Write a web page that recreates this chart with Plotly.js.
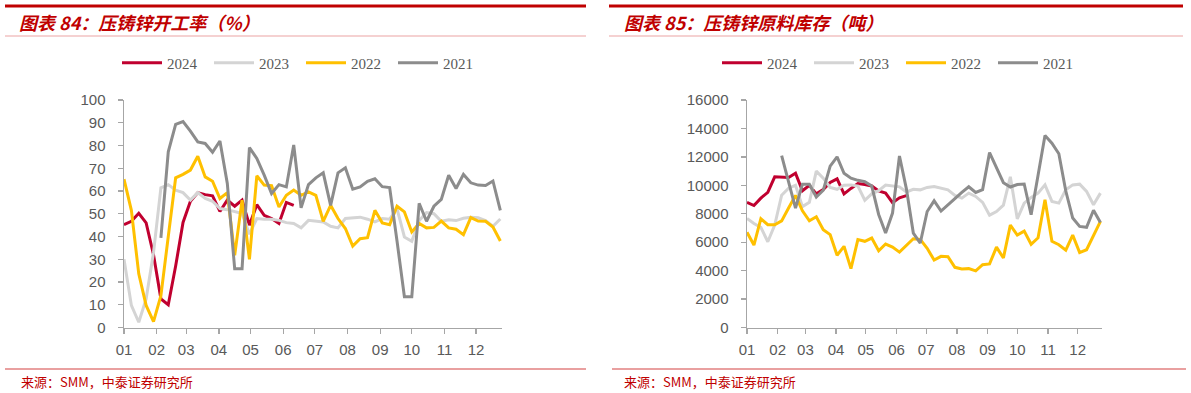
<!DOCTYPE html>
<html><head><meta charset="utf-8">
<script src="https://cdn.plot.ly/plotly-3.0.1.min.js"></script>
<style>html,body{margin:0;padding:0;background:#fff;}#chart{width:1191px;height:393px;}</style>
</head><body><div id="chart"></div>
<script>
// Weekly dates (common calendar axis, months 01-12)
const weeks = ["2021-01-01","2021-01-08","2021-01-15","2021-01-22","2021-01-29",
"2021-02-05","2021-02-12","2021-02-19","2021-02-26",
"2021-03-05","2021-03-12","2021-03-19","2021-03-26",
"2021-04-02","2021-04-09","2021-04-16","2021-04-23","2021-04-30",
"2021-05-07","2021-05-14","2021-05-21","2021-05-28",
"2021-06-04","2021-06-11","2021-06-18","2021-06-25",
"2021-07-02","2021-07-09","2021-07-16","2021-07-23","2021-07-30",
"2021-08-06","2021-08-13","2021-08-20","2021-08-27",
"2021-09-03","2021-09-10","2021-09-17","2021-09-24",
"2021-10-01","2021-10-08","2021-10-15","2021-10-22","2021-10-29",
"2021-11-05","2021-11-12","2021-11-19","2021-11-26",
"2021-12-03","2021-12-10","2021-12-17","2021-12-24"];

const seriesNames = ["2024","2023","2022","2021"];
const seriesColors = ["#C0002F","#D4D4D4","#FFC000","#8C8C8C"];

// Chart 84: 压铸锌开工率（%）
const rate2024 = [45.2,46.7,50.2,46,32,12.6,10,27,46.2,55.5,
59.3,58.4,57.9,51,56,53.3,56,45,54,49.3,
47.9,45.7,55,53.7,null,null,null,null,null,null,
null,null,null,null,null,null,null,null,null,null,
null,null,null,null,null,null,null,null,null,null,null,null];
const rate2023 = [30,9.7,2.3,12.6,33,61.4,62.8,60.4,59.3,56,
59.3,56.7,55.5,52.3,51.8,50.8,50.1,41,47.9,47.6,
47.6,47.1,46.1,45.7,43.8,47.1,46.7,46.4,44.5,43.8,
47.9,48.2,48.5,47.6,46.4,47.9,47.6,52.3,39.8,37.9,
47,50.5,50,46.7,47.4,47,48,48.5,48.2,47,44.5,47.7];
const rate2022 = [65.2,51.5,23.6,9.7,2.6,14,40,65.8,67.3,69.2,
75.3,66.2,64.3,56.7,59.3,31.7,56,30,66.7,62.6,
62.3,53,58.1,60.4,58.1,59.6,58.1,46.7,53.7,47.9,
43.5,35.8,39,39.5,51.5,46,45.2,53.3,50.8,42,
45.7,43.8,44,46.8,43.8,43.2,40.8,48.3,46.8,46.7,44.2,38];
const rate2021 = [null,null,null,null,null,39.4,77.2,89.3,90.5,86.3,
81.6,80.9,77,82,63.3,25.8,25.8,79.1,74.3,67,
58.9,62.8,61.8,80.2,52.6,62.8,65.8,68,53.7,68,
70.2,60.8,61.8,64.3,65.4,61.9,61.5,38,13.5,13.5,
54.6,46.7,53.3,56.3,66.9,61.1,67.3,63.6,62.6,62.4,64.4,51.5];

// Chart 85: 压铸锌原料库存（吨）
const stock2024 = [8800,8580,9100,9500,10600,10550,10550,10850,9620,10000,
9400,9700,10200,10450,9400,9780,10120,10050,9950,9600,
9450,8780,9120,9270,null,null,null,null,null,null,
null,null,null,null,null,null,null,null,null,null,
null,null,null,null,null,null,null,null,null,null,null,null];
const stock2023 = [7670,7310,7040,6030,7200,9300,9800,10000,8500,8800,
11000,10500,9850,9720,10000,10030,9950,8950,9400,9620,
10020,9970,9890,9530,9720,9680,9850,9920,9800,9680,
9290,9100,9450,9220,8800,7900,8150,8600,10600,7640,
8750,9150,9450,10030,8870,8750,9680,10030,10080,9570,8630,9450];
const stock2022 = [6700,5800,7650,7230,7230,7500,8400,9290,8210,7500,
7790,6880,6530,5080,5710,4140,6180,6060,6290,5400,
5870,5660,5300,5740,6245,6200,5570,4740,5005,4980,
4233,4117,4140,3980,4420,4470,5650,4890,7200,6500,
6780,5850,6310,8980,6060,5820,5440,6500,5270,5470,6410,7460];
const stock2021 = [null,null,null,null,null,12090,10250,8400,10080,10080,
9180,9650,11350,12000,10850,10500,10350,10250,9950,7950,
6640,8050,12060,9750,6640,5940,8160,8910,8190,8600,
9070,9500,9900,9500,9700,12300,11230,10180,9880,10050,
10090,7930,10700,13500,12960,12220,9600,7700,7110,7050,8250,7380];

const leftData = [rate2024, rate2023, rate2022, rate2021];
const rightData = [stock2024, stock2023, stock2022, stock2021];

const W = 1191, H = 393;
const px = v => v / W;
const py = v => 1 - v / H;

const traces = [];
leftData.forEach((arr, i) => traces.push({
  type: 'scatter', mode: 'lines', x: weeks, y: arr, name: seriesNames[i],
  xaxis: 'x', yaxis: 'y', legend: 'legend',
  line: {color: seriesColors[i], width: 3}, connectgaps: false, hoverinfo: 'skip'
}));
rightData.forEach((arr, i) => traces.push({
  type: 'scatter', mode: 'lines', x: weeks, y: arr, name: seriesNames[i],
  xaxis: 'x2', yaxis: 'y2', legend: 'legend2',
  line: {color: seriesColors[i], width: 3}, connectgaps: false, hoverinfo: 'skip'
}));

const axisColor = '#A6A6A6';
const tickFont = {family: 'Liberation Sans, Arial, sans-serif', size: 15, color: '#595959'};
const xCommon = {
  type: 'date', range: ['2021-01-01', '2021-12-25 14:00'],
  tick0: '2021-01-01', dtick: 'M1', tickformat: '%m',
  ticks: 'outside', ticklen: 5, tickwidth: 1.3, tickcolor: axisColor,
  showline: true, linecolor: axisColor, linewidth: 1.5,
  showgrid: false, zeroline: false, tickfont: tickFont, ticklabelstandoff: 3,
  fixedrange: true
};
const yCommon = {
  ticks: 'outside', ticklen: 5, tickwidth: 1.3, tickcolor: axisColor,
  showline: true, linecolor: axisColor, linewidth: 1.5,
  showgrid: false, zeroline: false, tickfont: tickFont, ticklabelstandoff: 9,
  tickformat: 'd', fixedrange: true
};
const yDom = [py(327.5), py(100)];

const legendCommon = {
  orientation: 'h', xanchor: 'left', yanchor: 'middle', y: py(63),
  font: {family: 'Liberation Serif, Times New Roman, serif', size: 15, color: '#595959'},
  itemwidth: 40, entrywidth: 37, entrywidthmode: 'pixels', bgcolor: 'rgba(0,0,0,0)',
  itemclick: false, itemdoubleclick: false
};

const titleFont = {family: 'Noto Sans CJK SC, sans-serif', size: 18, color: '#C00000', weight: 'bold', style: 'italic'};
const srcFont = {family: 'Noto Sans CJK SC, sans-serif', size: 13, color: '#C00000'};

const line = (x0, x1, y, color, width) => ({
  type: 'line', xref: 'paper', yref: 'paper', x0: px(x0), x1: px(x1), y0: py(y), y1: py(y),
  line: {color: color, width: width}
});

const layout = {
  width: W, height: H, margin: {l: 0, r: 0, t: 0, b: 0},
  paper_bgcolor: '#FFFFFF', plot_bgcolor: '#FFFFFF', showlegend: true,
  xaxis: Object.assign({}, xCommon, {domain: [px(124), px(502)], anchor: 'y'}),
  yaxis: Object.assign({}, yCommon, {domain: yDom, range: [0, 100], dtick: 10, anchor: 'x'}),
  xaxis2: Object.assign({}, xCommon, {domain: [px(747), px(1102)], anchor: 'y2'}),
  yaxis2: Object.assign({}, yCommon, {domain: yDom, range: [0, 16000], dtick: 2000, anchor: 'x2'}),
  legend: Object.assign({}, legendCommon, {x: px(117)}),
  legend2: Object.assign({}, legendCommon, {x: px(717)}),
  shapes: [
    line(5, 586, 6, '#C00000', 3),
    line(609, 1183, 6, '#C00000', 3),
    line(5, 586, 36, '#EBA3A3', 1),
    line(609, 1183, 36, '#EBA3A3', 1),
    line(5, 586, 369, '#E9A0A0', 2),
    line(612, 1186, 369, '#E9A0A0', 2)
  ],
  annotations: [
    {xref: 'paper', yref: 'paper', x: px(17), y: py(22), xanchor: 'left', yanchor: 'middle', showarrow: false,
     text: '图表 84：压铸锌开工率（%）', font: titleFont},
    {xref: 'paper', yref: 'paper', x: px(622), y: py(22), xanchor: 'left', yanchor: 'middle', showarrow: false,
     text: '图表 85：压铸锌原料库存（吨）', font: titleFont},
    {xref: 'paper', yref: 'paper', x: px(19), y: py(381), xanchor: 'left', yanchor: 'middle', showarrow: false,
     text: '来源：SMM，中泰证券研究所', font: srcFont},
    {xref: 'paper', yref: 'paper', x: px(622), y: py(381), xanchor: 'left', yanchor: 'middle', showarrow: false,
     text: '来源：SMM，中泰证券研究所', font: srcFont}
  ]
};

Plotly.newPlot('chart', traces, layout, {staticPlot: true, displayModeBar: false});
</script>
</body></html>
